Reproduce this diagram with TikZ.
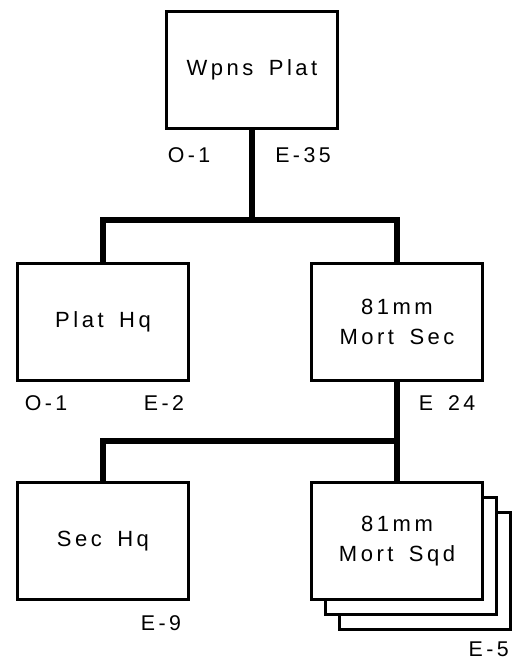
\documentclass[tikz,border=0pt]{standalone}
\usepackage{fontspec}
\setmainfont[LetterSpace=16,WordSpace=1.6]{Liberation Sans}
\usetikzlibrary{positioning}

\begin{document}
\begin{tikzpicture}[x=0.75pt,y=-0.75pt,line join=miter,
	unit/.style={draw,line width=2.2pt,fill=white,minimum width=128pt,minimum height=88pt,
		inner sep=0pt,align=center,font=\fontsize{16.5}{23}\selectfont},
	link/.style={line width=3.8pt},
	strength/.style={font=\fontsize{16}{18}\selectfont,inner sep=0pt}]
	\useasboundingbox (0,0) rectangle (512,667);
	% units
	\node[unit] (wpns) at (252,70) {Wpns Plat};
	\node[unit] (plathq) at (103,322) {Plat Hq};
	\node[unit] (mortsec) at (397,322) {81mm\\Mort Sec};
	\node[unit] (sechq) at (103,541) {Sec Hq};
	\node[unit] (sqd3) at (425,571) {};
	\node[unit] (sqd2) at (411,556) {};
	\node[unit] (mortsqd) at (397,541) {81mm\\Mort Sqd};
	% strengths
	\node[strength] (wpnsO) at (189,155) {O-1};
	\node[strength] (wpnsE) at (303,155) {E-35};
	\node[strength] (plathqO) at (46,403) {O-1};
	\node[strength] (plathqE) at (164,403) {E-2};
	\node[strength] (mortsecE) at (447,403) {E 24};
	\node[strength] (sechqE) at (161,623) {E-9};
	\node[strength,anchor=east] (mortsqdE) at (509,649) {E-5};
	% connectors
	\coordinate (bus1) at (252,220);
	\coordinate (bus2) at (397,441);
	\draw[link] (wpns.south) -- (bus1);
	\draw[link] (plathq.north) |- (bus1) -| (mortsec.north);
	\draw[link] (mortsec.south) -- (bus2);
	\draw[link] (sechq.north) |- (bus2) -- (mortsqd.north);
\end{tikzpicture}
\end{document}
